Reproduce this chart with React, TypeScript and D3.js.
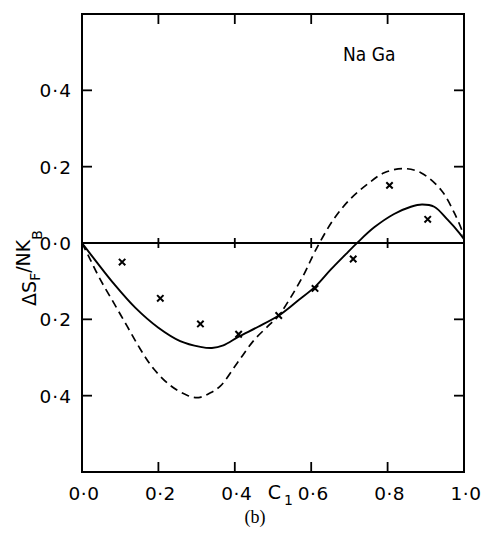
import React from 'react';
import * as d3 from 'd3';

// concentration c vs entropy of formation dS_F / N k_B (NaGa)
const xTicks = [0, 0.2, 0.4, 0.6, 0.8, 1.0];
const xTickLabels = ['0·0', '0·2', '0·4', '0·6', '0·8', '1·0'];
const yTicks = [-0.4, -0.2, 0, 0.2, 0.4];
const yTickLabels = ['0·4', '0·2', '0·0', '0·2', '0·4'];

// solid curve
const solidC = [0, 0.04, 0.082, 0.14, 0.2, 0.257, 0.31, 0.34, 0.37, 0.409, 0.46, 0.515, 0.564, 0.612, 0.651, 0.69, 0.721, 0.765, 0.817, 0.861, 0.89, 0.922, 0.957, 0.988, 1.0];
const solidS = [0, -0.052, -0.105, -0.17, -0.222, -0.257, -0.272, -0.275, -0.268, -0.246, -0.22, -0.19, -0.152, -0.113, -0.07, -0.03, 0.001, 0.041, 0.076, 0.095, 0.101, 0.095, 0.061, 0.026, 0.01];

// dashed curve
const dashedC = [0, 0.021, 0.047, 0.082, 0.117, 0.152, 0.187, 0.231, 0.275, 0.305, 0.335, 0.362, 0.406, 0.45, 0.493, 0.515, 0.546, 0.581, 0.612, 0.66, 0.703, 0.747, 0.791, 0.843, 0.887, 0.94, 0.975, 0.997, 1.0];
const dashedS = [0, -0.042, -0.094, -0.155, -0.216, -0.277, -0.329, -0.373, -0.399, -0.405, -0.393, -0.375, -0.315, -0.255, -0.212, -0.19, -0.143, -0.082, -0.018, 0.064, 0.116, 0.154, 0.184, 0.195, 0.184, 0.139, 0.078, 0.026, 0.01];

// experimental points (crosses)
const expC = [0.105, 0.205, 0.31, 0.41, 0.515, 0.61, 0.71, 0.805, 0.905];
const expS = [-0.05, -0.145, -0.212, -0.239, -0.19, -0.119, -0.042, 0.151, 0.062];

const c1 = 0.515;

const W = 489;
const H = 534;
const font = 'DejaVu Sans, sans-serif';

const App = () => {
  const left = 82, right = 464, top = 14, bottom = 472;
  const x = d3.scaleLinear().domain([0, 1]).range([left, right]);
  const y = d3.scaleLinear().domain([-0.6, 0.6]).range([bottom, top]);

  const line = d3.line<[number, number]>()
    .x(d => x(d[0]))
    .y(d => y(d[1]))
    .curve(d3.curveCatmullRom.alpha(0.5));

  const solid = solidC.map((c, i) => [c, solidS[i]] as [number, number]);
  const dashed = dashedC.map((c, i) => [c, dashedS[i]] as [number, number]);

  const inner = xTicks.filter(t => t > 0 && t < 1);
  const innerY = yTicks.filter(t => t !== 0);
  const tk = 10;

  return (
    <svg width={W} height={H} style={{ position: 'absolute', left: 0, top: 0, background: '#fff' }}>
      {/* frame */}
      <rect x={left} y={top} width={right - left} height={bottom - top} fill="none" stroke="#000" strokeWidth={2} />

      {/* inward ticks */}
      {inner.map(t => (
        <g key={'xt' + t} stroke="#000" strokeWidth={1.8}>
          <line x1={x(t)} x2={x(t)} y1={top} y2={top + tk} />
          <line x1={x(t)} x2={x(t)} y1={bottom} y2={bottom - tk} />
          <line x1={x(t)} x2={x(t)} y1={y(0) - 5} y2={y(0) + 5} />
        </g>
      ))}
      {innerY.map(t => (
        <g key={'yt' + t} stroke="#000" strokeWidth={1.8}>
          <line x1={left} x2={left + tk} y1={y(t)} y2={y(t)} />
          <line x1={right} x2={right - tk} y1={y(t)} y2={y(t)} />
        </g>
      ))}

      {/* zero line */}
      <line x1={x(0)} x2={x(1)} y1={y(0)} y2={y(0)} stroke="#000" strokeWidth={1.8} />

      {/* curves */}
      <path d={line(solid) || ''} fill="none" stroke="#000" strokeWidth={1.9} />
      <path d={line(dashed) || ''} fill="none" stroke="#000" strokeWidth={1.7} strokeDasharray="8,5" />

      {/* crosses */}
      {expC.map((c, i) => {
        const px = x(c), py = y(expS[i]);
        const r = 3.2;
        return (
          <path key={'p' + i}
            d={`M${px - r},${py - r}L${px + r},${py + r}M${px - r},${py + r}L${px + r},${py - r}`}
            stroke="#000" strokeWidth={2} fill="none" />
        );
      })}

      {/* tick labels */}
      {xTicks.map((t, i) => (
        <text key={'xl' + t} x={x(t) + 2} y={500} textAnchor="middle" fontFamily={font} fontSize={18.5} letterSpacing={0.5}>
          {xTickLabels[i]}
        </text>
      ))}
      {yTicks.map((t, i) => (
        <text key={'yl' + t} x={72} y={y(t) + 7} textAnchor="end" fontFamily={font} fontSize={18.5} letterSpacing={1}>
          {yTickLabels[i]}
        </text>
      ))}

      {/* C1 marker label */}
      <text x={x(c1) - 11} y={499} textAnchor="start" fontFamily={font} fontSize={19}>
        C<tspan fontSize={14} dx={3} dy={6}>1</tspan>
      </text>

      {/* y label */}
      <text transform="translate(36,268) rotate(-90)" textAnchor="middle" fontFamily={font} fontSize={19}>
        ΔS<tspan fontSize={14} dy={4}>F</tspan><tspan dy={-10}>/NK</tspan><tspan fontSize={14} dy={12}>B</tspan>
      </text>

      {/* compound */}
      <text x={343} y={61} fontFamily={font} fontSize={19} style={{ fontStretch: 'condensed' }}>Na Ga</text>

      {/* panel */}
      <text x={255} y={523} textAnchor="middle" fontFamily="Liberation Serif, serif" fontSize={18}>(b)</text>
    </svg>
  );
};

export default App;
